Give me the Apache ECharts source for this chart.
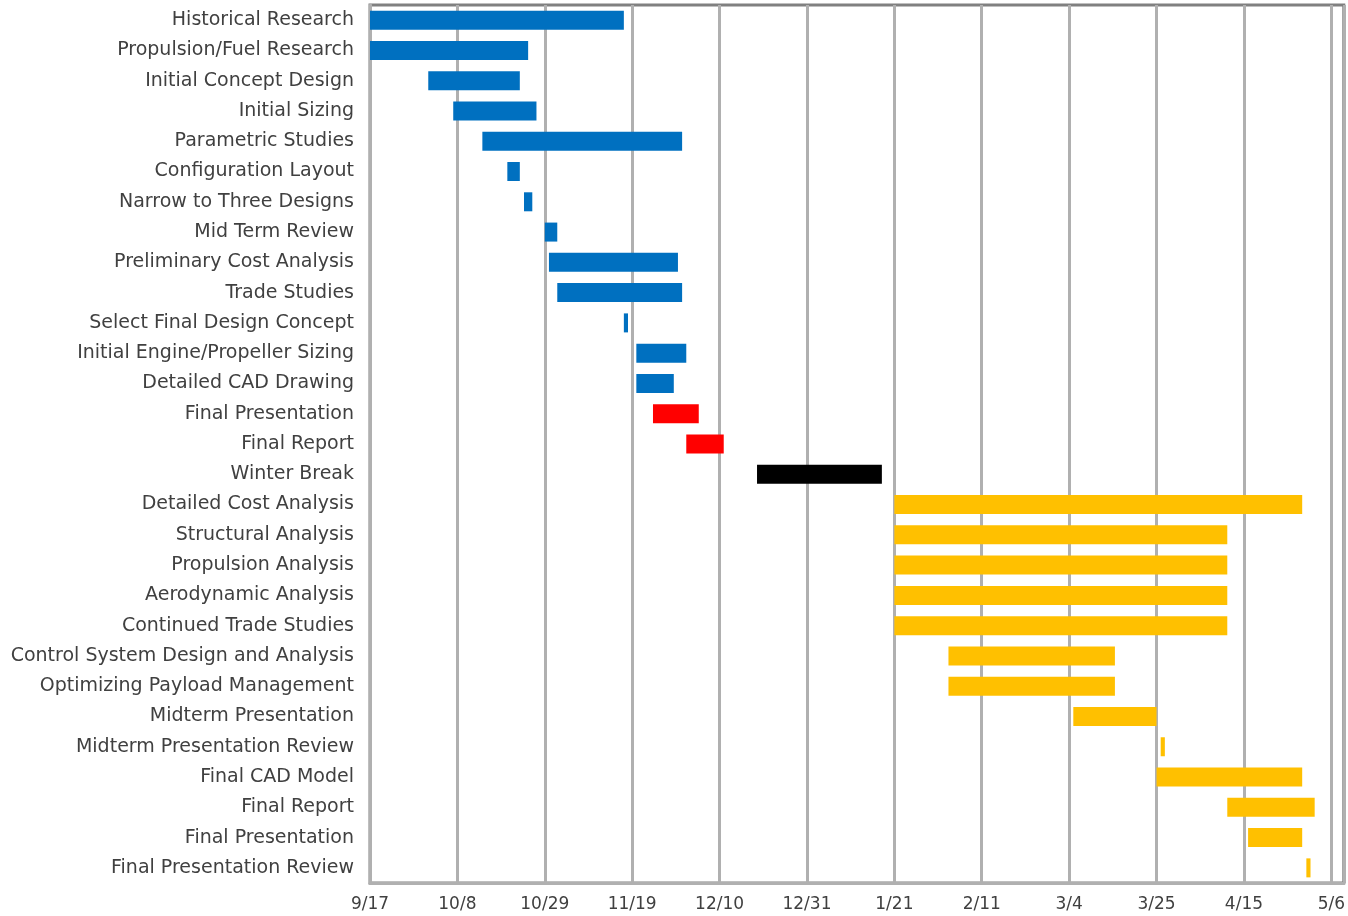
<!DOCTYPE html>
<html>
<head>
<meta charset="utf-8">
<title>Project Schedule</title>
<script src="https://cdn.jsdelivr.net/npm/echarts@6/dist/echarts.min.js"></script>
<style>
  html, body { margin: 0; padding: 0; background: #ffffff; }
  #chart { width: 1348px; height: 916px; }
</style>
</head>
<body>
<div id="chart"></div>
<script>
// Task names, top to bottom
const tasks = [
  'Historical Research',
  'Propulsion/Fuel Research',
  'Initial Concept Design',
  'Initial Sizing',
  'Parametric Studies',
  'Configuration Layout',
  'Narrow to Three Designs',
  'Mid Term Review',
  'Preliminary Cost Analysis',
  'Trade Studies',
  'Select Final Design Concept',
  'Initial Engine/Propeller Sizing',
  'Detailed CAD Drawing',
  'Final Presentation',
  'Final Report',
  'Winter Break',
  'Detailed Cost Analysis',
  'Structural Analysis',
  'Propulsion Analysis',
  'Aerodynamic Analysis',
  'Continued Trade Studies',
  'Control System Design and Analysis',
  'Optimizing Payload Management',
  'Midterm Presentation',
  'Midterm Presentation Review',
  'Final CAD Model',
  'Final Report',
  'Final Presentation',
  'Final Presentation Review'
];

// Start and finish of each task, in days counted from 9/17
const startDay = [0, 0, 14, 20, 27, 33, 37, 42, 43, 45, 61, 64, 64, 68, 76,
                  93,
                  126, 126, 126, 126, 126, 139, 139, 169, 190, 189, 206, 211, 225];
const endDay   = [61, 38, 36, 40, 75, 36, 39, 45, 74, 75, 62, 76, 73, 79, 85,
                  123,
                  224, 206, 206, 206, 206, 179, 179, 189, 191, 224, 227, 224, 226];

// Which part of the year each task belongs to
const phase = ['fall', 'fall', 'fall', 'fall', 'fall', 'fall', 'fall', 'fall', 'fall', 'fall',
               'fall', 'fall', 'fall', 'fallFinal', 'fallFinal',
               'break',
               'spring', 'spring', 'spring', 'spring', 'spring', 'spring', 'spring', 'spring',
               'spring', 'spring', 'spring', 'spring', 'spring'];

const phaseColors = { fall: '#0070C0', fallFinal: '#FF0000', break: '#000000', spring: '#FFC000' };

// Date labels every three weeks
const tickLabels = ['9/17', '10/8', '10/29', '11/19', '12/10', '12/31',
                    '1/21', '2/11', '3/4', '3/25', '4/15', '5/6'];
const tickStep = 21;
const lastDay = 234;

const durations = startDay.map((s, i) => endDay[i] - s);

const chart = echarts.init(document.getElementById('chart'), null, { renderer: 'canvas' });

chart.setOption({
  animation: false,
  backgroundColor: '#ffffff',
  grid: {
    left: 370, right: 3, top: 5, bottom: 33,
    show: true,
    borderColor: '#808080',
    borderWidth: 3,
    backgroundColor: 'transparent'
  },
  xAxis: {
    type: 'value',
    min: 0,
    max: lastDay,
    interval: tickStep,
    axisLine: { show: true, onZero: false, lineStyle: { color: '#b0b0b0', width: 3 } },
    axisTick: { show: false },
    splitLine: { show: true, lineStyle: { color: '#b0b0b0', width: 3 } },
    axisLabel: {
      margin: 13,
      fontFamily: 'DejaVu Sans',
      fontSize: 17,
      color: '#404040',
      showMaxLabel: false,
      formatter: (v) => (v % tickStep === 0 ? (tickLabels[v / tickStep] || '') : '')
    }
  },
  yAxis: {
    type: 'category',
    inverse: true,
    data: tasks,
    axisLine: { show: true, lineStyle: { color: '#b0b0b0', width: 3 } },
    axisTick: { show: false },
    splitLine: { show: false },
    axisLabel: {
      margin: 16,
      fontFamily: 'DejaVu Sans',
      fontSize: 19,
      color: '#404040',
      interval: 0
    }
  },
  series: [
    {
      name: 'offset',
      type: 'bar',
      stack: 'gantt',
      barWidth: 19,
      silent: true,
      itemStyle: { color: 'transparent' },
      data: startDay
    },
    {
      name: 'duration',
      type: 'bar',
      stack: 'gantt',
      barWidth: 19,
      data: durations.map((d, i) => ({
        value: d,
        itemStyle: { color: phaseColors[phase[i]] }
      }))
    }
  ]
});
</script>
</body>
</html>
